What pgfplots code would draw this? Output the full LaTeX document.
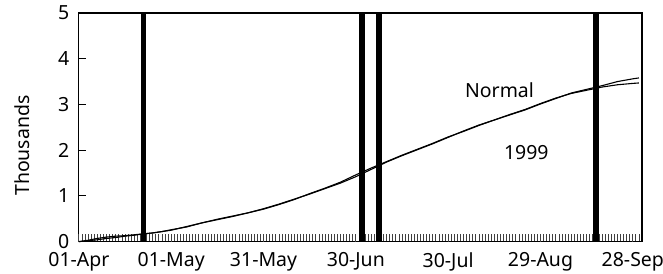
\documentclass[border=0pt]{standalone}
\usepackage{pgfplots}
\pgfplotsset{compat=1.18}
\usepackage{fontspec}
\setmainfont{Noto Sans}
\begin{document}
\begin{tikzpicture}
\begin{axis}[
  scale only axis,
  width=564pt, height=229pt,
  xmin=0, xmax=183, ymin=0, ymax=5,
  axis line style={line width=1.2pt},
  font=\fontsize{19.5}{21}\selectfont,
  /pgf/number format/assume math mode=true,
  tick pos=left,
  tick align=inside,
  ytick={0,1,2,3,4,5},
  major tick length=7.5pt,
  y tick style={line width=1pt, black},
  yticklabel style={xshift=-6pt},
  xtick={0,1,...,183},
  xticklabels={},
  x tick style={line width=0.8pt, black!75},
  extra x ticks={0,30,60,90,120,150,180},
  extra x tick labels={01-Apr,01-May,31-May,30-Jun,30-Jul,29-Aug,28-Sep},
  extra x tick style={xticklabel style={yshift=-7.5pt}},
  ylabel={Thousands},
  ylabel style={at={(axis description cs:-0.101,0.42)}, anchor=center},
  clip=false,
]
% vertical bars
\addplot[black, line width=6pt, forget plot] coordinates {(21,0) (21,5)};
\addplot[black, line width=6pt, forget plot] coordinates {(92,0) (92,5)};
\addplot[black, line width=6pt, forget plot] coordinates {(97.5,0) (97.5,5)};
\addplot[black, line width=6pt, forget plot] coordinates {(168,0) (168,5)};
% Normal
\addplot[black, line width=1.1pt] coordinates {
(0,0) (3,0.02) (6,0.04) (9,0.07) (12,0.09) (15,0.12) (18,0.14) (21,0.17) (24,0.19) (27,0.22)
(30,0.26) (35,0.32) (40,0.41) (45,0.48) (50,0.55) (55,0.63) (60,0.72) (65,0.82) (70,0.93)
(75,1.04) (80,1.16) (85,1.28) (90,1.42) (95,1.58) (100,1.74) (105,1.88) (110,2.01) (115,2.14)
(120,2.28) (125,2.42) (130,2.55) (135,2.66) (140,2.77) (145,2.88) (150,3.01) (155,3.13)
(160,3.25) (165,3.33) (170,3.41) (175,3.50) (180,3.56) (182,3.58)};
% 1999
\addplot[black, line width=1.1pt] coordinates {
(0,0) (3,0.03) (6,0.07) (9,0.10) (12,0.12) (15,0.13) (18,0.15) (21,0.17) (24,0.19) (27,0.22)
(30,0.25) (35,0.33) (40,0.41) (45,0.49) (50,0.56) (55,0.63) (60,0.71) (65,0.81) (70,0.92)
(75,1.05) (80,1.17) (85,1.30) (90,1.46) (95,1.61) (100,1.75) (105,1.89) (110,2.02) (115,2.15)
(120,2.29) (125,2.41) (130,2.54) (135,2.66) (140,2.78) (145,2.89) (150,3.02) (155,3.14)
(160,3.24) (165,3.31) (170,3.38) (175,3.43) (180,3.46) (182,3.47)};
\node[font=\fontsize{19.5}{21}\selectfont] at (axis cs:136.7,3.31) {Normal};
\node[font=\fontsize{19.5}{21}\selectfont] at (axis cs:145.4,1.95) {1999};
\end{axis}
\pgfresetboundingbox
\path (current axis.south west) ++(-79pt,-32pt) coordinate (bl);
\path (current axis.north east) ++(21pt,13pt) coordinate (tr);
\path[use as bounding box] (bl) rectangle (tr);
\end{tikzpicture}
\end{document}
